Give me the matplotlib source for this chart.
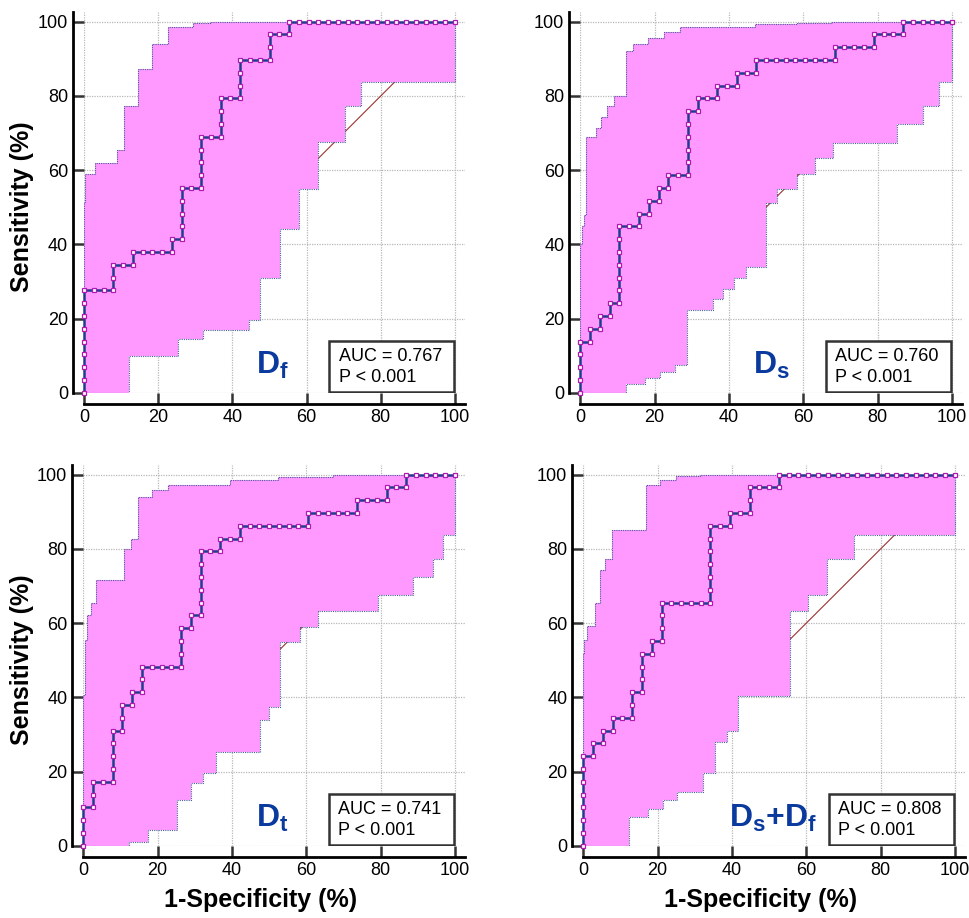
import matplotlib
matplotlib.use('Agg')
import matplotlib.pyplot as plt
from matplotlib.patches import Polygon, Rectangle

plt.rcParams['font.family'] = ['Liberation Sans', 'DejaVu Sans']
plt.rcParams['mathtext.fontset'] = 'custom'
plt.rcParams['mathtext.rm'] = 'Liberation Sans'
plt.rcParams['mathtext.bf'] = 'Liberation Sans:bold'
plt.rcParams['mathtext.it'] = 'Liberation Sans:italic'

# sample sizes (positives / negatives)
N_POS = 29
N_NEG = 38

# ROC step corners: at false-positive count fp[i] the curve rises to true-positive count tp[i]
df_fp = [0, 3, 5, 9, 10, 12, 14, 16, 19, 21]
df_tp = [8, 10, 11, 12, 16, 20, 23, 26, 28, 29]
ds_fp = [0, 1, 2, 3, 4, 6, 7, 8, 9, 11, 12, 14, 16, 18, 26, 30, 33]
ds_tp = [4, 5, 6, 7, 13, 14, 15, 16, 17, 22, 23, 24, 25, 26, 27, 28, 29]
dt_fp = [0, 1, 3, 4, 5, 6, 10, 11, 12, 14, 16, 23, 28, 31, 33]
dt_tp = [3, 5, 9, 11, 12, 14, 17, 18, 23, 24, 25, 26, 27, 28, 29]
dsf_fp = [0, 1, 2, 3, 5, 6, 7, 8, 13, 15, 17, 20]
dsf_tp = [7, 8, 9, 10, 12, 15, 16, 19, 25, 26, 28, 29]

# 95% confidence bands (percent): upper edge rises at x to y; lower edge runs to x then rises to y
df_up_x = [0, 0.36, 3.05, 8.98, 10.8, 14.6, 18.3, 22.6, 29.4, 34.0]
df_up_y = [51.5, 58.9, 62.0, 65.4, 77.2, 87.3, 94.0, 98.5, 99.7, 100]
df_lo_x = [12.2, 25.4, 32.2, 44.6, 47.5, 52.8, 58.0, 63.0, 70.4, 74.7, 100]
df_lo_y = [9.9, 14.4, 16.9, 19.6, 30.8, 44.1, 55.0, 67.5, 77.3, 83.7, 100]

ds_up_x = [0, 0.4, 0.9, 1.6, 4.2, 5.7, 7.3, 9.1, 12.3, 14.3, 18.3, 22.6, 26.8, 47.1, 58.3, 67.7]
ds_up_y = [40.0, 44.8, 47.9, 68.8, 71.3, 74.2, 77.2, 80.0, 92.0, 94.0, 95.6, 97.2, 98.5, 99.3, 99.6, 100]
ds_lo_x = [12.2, 17.3, 21.4, 25.4, 28.6, 35.6, 38.4, 41.4, 44.6, 50.0, 52.8, 58.2, 63.1, 67.9, 85.2, 92.2, 96.4, 100]
ds_lo_y = [2.3, 3.9, 5.7, 7.5, 22.3, 25.2, 27.9, 30.9, 34.0, 51.1, 55.0, 59.0, 63.2, 67.4, 72.4, 77.4, 83.7, 100]

dt_up_x = [0, 0.5, 1.0, 2.0, 3.5, 10.9, 12.7, 14.7, 18.6, 22.9, 39.5, 52.5, 67.3]
dt_up_y = [40.7, 55.5, 62.2, 65.5, 71.6, 80.1, 82.6, 94.1, 95.8, 97.2, 98.5, 99.5, 100]
dt_lo_x = [12.4, 17.5, 25.2, 28.9, 32.1, 35.6, 47.5, 50.0, 52.9, 58.3, 63.2, 79.4, 88.8, 94.2, 96.7, 100]
dt_lo_y = [1.1, 4.2, 12.3, 17.0, 19.5, 25.3, 34.0, 37.4, 54.9, 59.0, 63.3, 67.5, 72.4, 77.4, 83.7, 100]

dsf_up_x = [0, 0.3, 0.9, 3.2, 4.4, 5.8, 7.6, 16.9, 20.6, 25.0, 31.4]
dsf_up_y = [52.0, 55.5, 59.2, 65.5, 74.2, 77.2, 85.0, 97.1, 98.5, 99.7, 100]
dsf_lo_x = [12.3, 17.5, 21.4, 25.2, 32.3, 35.5, 38.6, 41.7, 55.5, 60.5, 65.6, 72.7, 100]
dsf_lo_y = [7.7, 9.9, 12.2, 14.5, 19.7, 28.0, 30.9, 40.3, 63.3, 67.6, 77.4, 83.7, 100]

labels = [r'$\mathbf{D_f}$', r'$\mathbf{D_s}$', r'$\mathbf{D_t}$', r'$\mathbf{D_s{+}D_f}$']
label_x = [46.4, 46.4, 46.5, 39.3]
auc_text = ['AUC = 0.767', 'AUC = 0.760', 'AUC = 0.741', 'AUC = 0.808']
p_text = ['P < 0.001', 'P < 0.001', 'P < 0.001', 'P < 0.001']
ticks = [0, 20, 40, 60, 80, 100]

panels = [
    (df_fp, df_tp, df_up_x, df_up_y, df_lo_x, df_lo_y),
    (ds_fp, ds_tp, ds_up_x, ds_up_y, ds_lo_x, ds_lo_y),
    (dt_fp, dt_tp, dt_up_x, dt_up_y, dt_lo_x, dt_lo_y),
    (dsf_fp, dsf_tp, dsf_up_x, dsf_up_y, dsf_lo_x, dsf_lo_y),
]

W, H = 969, 918
fig = plt.figure(figsize=(W / 100, H / 100), dpi=100)

# axes: left px of x=0, top px of y=0 ; scale px per percent
ax_geom = [(84.0, 392.7, 3.71), (580.3, 392.7, 3.717), (83.3, 845.7, 3.717), (583.3, 845.7, 3.717)]
XMAX = 102.7
YMAX = 102.7

def step_path(xs, ys):
    pts = [(0.0, 0.0)]
    prev = 0.0
    for x, y in zip(xs, ys):
        pts.append((x, prev))
        pts.append((x, y))
        prev = y
    pts.append((100.0, prev))
    return pts

def roc_points(fp, tp):
    pts = [(0, 0)]
    cur_fp, cur_tp = 0, 0
    ends = fp[1:] + [N_NEG]
    for f, t, nf in zip(fp, tp, ends):
        while cur_fp < f:
            cur_fp += 1
            pts.append((cur_fp, cur_tp))
        while cur_tp < t:
            cur_tp += 1
            pts.append((cur_fp, cur_tp))
        while cur_fp < nf:
            cur_fp += 1
            pts.append((cur_fp, cur_tp))
    return [100.0 * a / N_NEG for a, b in pts], [100.0 * b / N_POS for a, b in pts]

navy = '#1F3D8C'
for i, (fp, tp, ux, uy, lx, ly) in enumerate(panels):
    x0, y0, s = ax_geom[i]
    left = x0 / W
    bottom = (H - y0) / H
    width = XMAX * s / W
    height = YMAX * 3.71 / H
    ax = fig.add_axes([left, bottom, width, height])
    ax.set_xlim(0, XMAX)
    ax.set_ylim(0, YMAX)

    ax.set_xticks(ticks)
    ax.set_yticks(ticks)
    ax.grid(True, color='#b8b8b8', linestyle=(0, (1, 1)), linewidth=0.9, zorder=0)
    ax.set_axisbelow(True)

    for sp in ['top', 'right']:
        ax.spines[sp].set_visible(False)
    for sp in ['left', 'bottom']:
        ax.spines[sp].set_position(('outward', 8))
        ax.spines[sp].set_linewidth(2.0)
        ax.spines[sp].set_color('black')
    ax.tick_params(direction='in', length=8, width=1.8, color='#333333',
                   labelsize=13, pad=3.5)

    # diagonal reference line
    ax.plot([0, 100], [0, 100], color='#9b3030', linewidth=0.8, zorder=1)

    up = step_path(ux, uy)
    lo = step_path(lx, ly)
    poly = up + lo[::-1]
    ax.add_patch(Polygon(poly, closed=True, facecolor='#ff99ff', edgecolor='none', zorder=2))
    ax.plot([p[0] for p in up], [p[1] for p in up], color='#4a5f9a', linestyle=(0, (1, 1)),
            linewidth=0.8, zorder=3)
    ax.plot([p[0] for p in lo], [p[1] for p in lo], color='#4a5f9a', linestyle=(0, (1, 1)),
            linewidth=0.8, zorder=3)

    rx, ry = roc_points(fp, tp)
    ax.plot(rx, ry, color=navy, linewidth=1.8, zorder=4, clip_on=False)
    ax.plot(rx, ry, linestyle='none', marker='s', markersize=3.2, markerfacecolor='white',
            markeredgecolor='#b01ab0', markeredgewidth=0.9, zorder=5, clip_on=False)

    ax.text(label_x[i], 5.0, labels[i], fontsize=23, color='#0b3a9e', ha='left', va='baseline',
            zorder=6)
    ax.add_patch(Rectangle((66.1, 0.2), 33.6, 13.8, facecolor='white', edgecolor='#333333',
                           linewidth=1.8, zorder=6))
    ax.text(68.6, 8.6, auc_text[i], fontsize=13, ha='left', va='baseline', zorder=7)
    ax.text(68.6, 3.0, p_text[i], fontsize=13, ha='left', va='baseline', zorder=7)

fig.text(22 / W, 1 - 207 / H, 'Sensitivity (%)', rotation=90, fontsize=18, fontweight='bold',
         ha='center', va='center')
fig.text(22 / W, 1 - 660 / H, 'Sensitivity (%)', rotation=90, fontsize=18, fontweight='bold',
         ha='center', va='center')
fig.text(261 / W, 1 - 900 / H, '1-Specificity (%)', fontsize=18, fontweight='bold',
         ha='center', va='center')
fig.text(761 / W, 1 - 900 / H, '1-Specificity (%)', fontsize=18, fontweight='bold',
         ha='center', va='center')

fig.savefig('out.png', dpi=100)
